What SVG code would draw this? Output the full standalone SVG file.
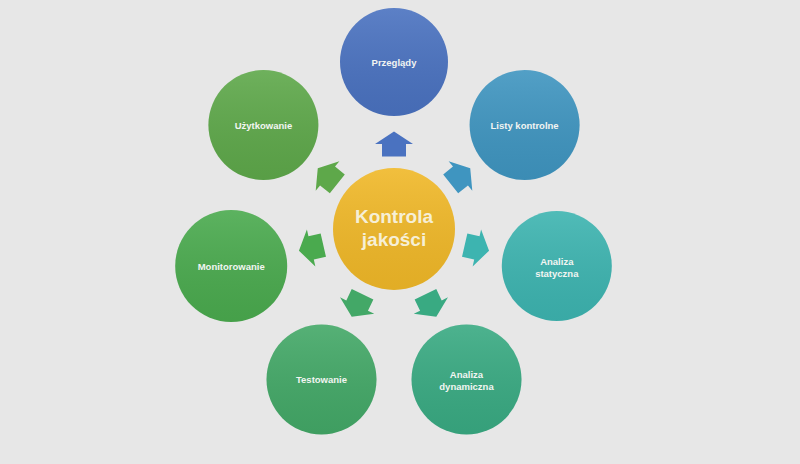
<svg xmlns="http://www.w3.org/2000/svg" xmlns:xlink="http://www.w3.org/1999/xlink" width="800" height="464" viewBox="0 0 800 464">
  <defs>
    <linearGradient id="shade" x1="0" y1="0" x2="0" y2="1">
      <stop offset="0" stop-color="#ffffff" stop-opacity="0.10"/>
      <stop offset="1" stop-color="#000000" stop-opacity="0.06"/>
    </linearGradient>
    <polygon id="arr" points="0,-12.5 19,0 12,0 12,12.5 -12,12.5 -12,0 -19,0"/>
    <style>
      .sat { stroke: none; }
      .ov { fill: url(#shade); }
      .lbl { font-family: "Liberation Sans", "Open Sans", Arial, sans-serif; font-weight: bold; font-size: 9.5px; fill: #f2f5f2; text-anchor: middle; }
      .ctr { font-family: "Liberation Sans", "Open Sans", Arial, sans-serif; font-weight: bold; font-size: 19px; fill: #f6efd6; text-anchor: middle; }
    </style>
  </defs>
  <rect width="800" height="464" fill="#e7e7e7"/>

  <g id="connectors">
    <use xlink:href="#arr" href="#arr" fill="#4a72c0" transform="translate(394,229) rotate(0) translate(0,-85)"/>
    <use xlink:href="#arr" href="#arr" fill="#3f95c0" transform="translate(394,229) rotate(51.43) translate(0,-85)"/>
    <use xlink:href="#arr" href="#arr" fill="#3db4b0" transform="translate(394,229) rotate(102.86) translate(0,-85)"/>
    <use xlink:href="#arr" href="#arr" fill="#39aa82" transform="translate(394,229) rotate(154.29) translate(0,-85)"/>
    <use xlink:href="#arr" href="#arr" fill="#43a867" transform="translate(394,229) rotate(205.71) translate(0,-85)"/>
    <use xlink:href="#arr" href="#arr" fill="#4aaa4e" transform="translate(394,229) rotate(257.14) translate(0,-85)"/>
    <use xlink:href="#arr" href="#arr" fill="#5ea84a" transform="translate(394,229) rotate(308.57) translate(0,-85)"/>
  </g>

  <g id="center">
    <circle cx="394" cy="229" r="61" fill="#f0b828"/>
    <circle cx="394" cy="229" r="61" class="ov"/>
    <text class="ctr" x="394" y="223">Kontrola</text>
    <text class="ctr" x="394" y="246">jakości</text>
  </g>

  <g id="przeglady">
    <circle cx="394" cy="62" r="54" fill="#4a72c0"/>
    <circle cx="394" cy="62" r="54" class="ov"/>
    <text class="lbl" x="394" y="65.5">Przeglądy</text>
  </g>

  <g id="listy-kontrolne">
    <circle cx="524.6" cy="125" r="55" fill="#3f95c0"/>
    <circle cx="524.6" cy="125" r="55" class="ov"/>
    <text class="lbl" x="524.6" y="128.5">Listy kontrolne</text>
  </g>

  <g id="analiza-statyczna">
    <circle cx="556.8" cy="266" r="55" fill="#3db4b0"/>
    <circle cx="556.8" cy="266" r="55" class="ov"/>
    <text class="lbl" x="556.8" y="264.5">Analiza</text>
    <text class="lbl" x="556.8" y="276.5">statyczna</text>
  </g>

  <g id="analiza-dynamiczna">
    <circle cx="466.5" cy="379.5" r="55" fill="#39aa82"/>
    <circle cx="466.5" cy="379.5" r="55" class="ov"/>
    <text class="lbl" x="466.5" y="377.5">Analiza</text>
    <text class="lbl" x="466.5" y="389.5">dynamiczna</text>
  </g>

  <g id="testowanie">
    <circle cx="321.5" cy="379.5" r="55" fill="#43a867"/>
    <circle cx="321.5" cy="379.5" r="55" class="ov"/>
    <text class="lbl" x="321.5" y="383">Testowanie</text>
  </g>

  <g id="monitorowanie">
    <circle cx="231.2" cy="266" r="56" fill="#4aaa4e"/>
    <circle cx="231.2" cy="266" r="56" class="ov"/>
    <text class="lbl" x="231.2" y="269.5">Monitorowanie</text>
  </g>

  <g id="uzytkowanie">
    <circle cx="263.4" cy="125" r="55" fill="#5ea84a"/>
    <circle cx="263.4" cy="125" r="55" class="ov"/>
    <text class="lbl" x="263.4" y="128.5">Użytkowanie</text>
  </g>
</svg>
